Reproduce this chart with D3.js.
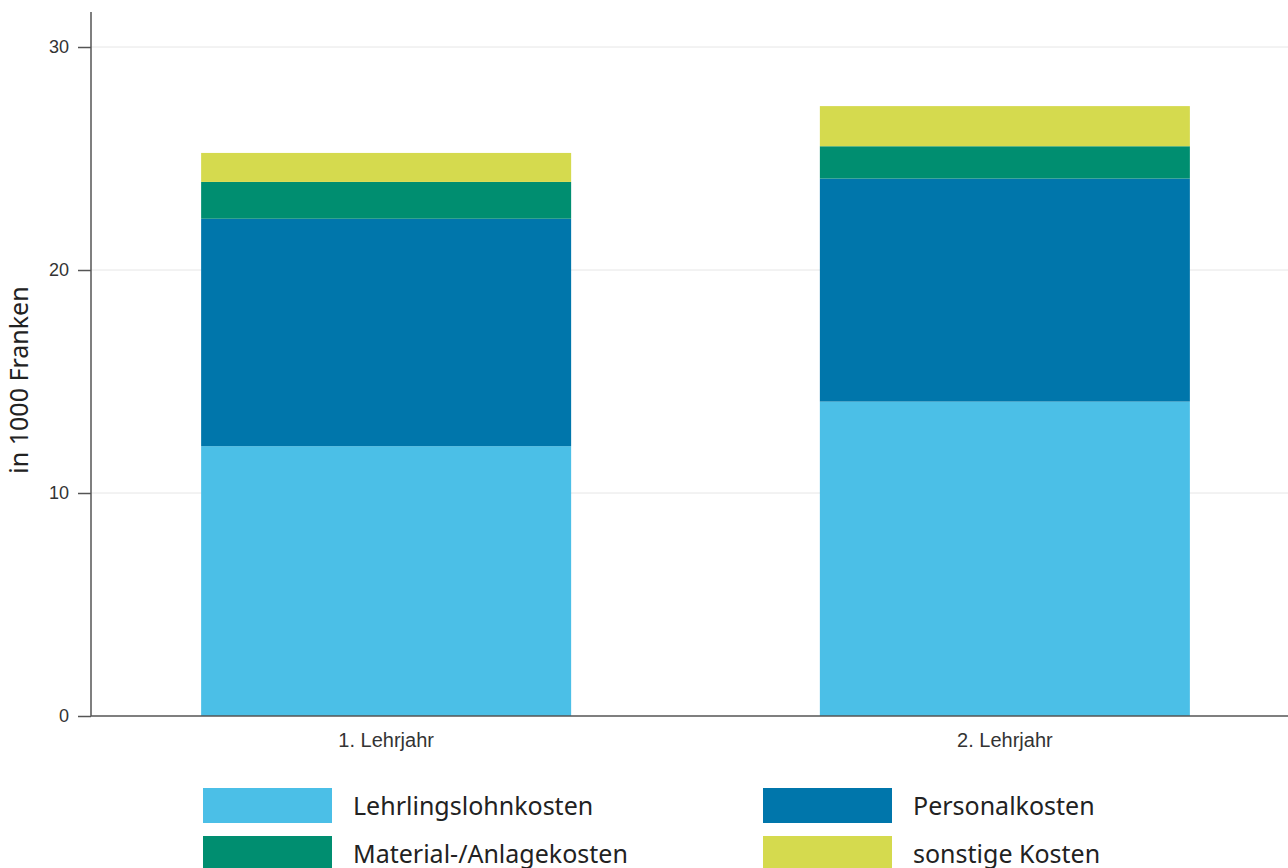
<!DOCTYPE html>
<html>
<head>
<meta charset="utf-8">
<script src="https://cdn.jsdelivr.net/npm/d3@7"></script>
<style>
  body { margin: 0; background: #fff; }
  svg { display: block; font-family: "Source Sans Pro", "Noto Sans", sans-serif; }
</style>
</head>
<body>
<div class="chart"></div>
<script>
// data
const years = ["1. Lehrjahr", "2. Lehrjahr"];
const series = ["Lehrlingslohnkosten", "Personalkosten", "Material-/Anlagekosten", "sonstige Kosten"];
const lehrlingslohn = [12.1, 14.1];
const personal = [10.2, 10.0];
const material = [1.65, 1.45];
const sonstige = [1.3, 1.8];
const yTicks = [0, 10, 20, 30];
const colors = ["#4bbfe7", "#0076ab", "#008e70", "#d5da4e"];

const rows = years.map((y, i) => ({
  year: y,
  "Lehrlingslohnkosten": lehrlingslohn[i],
  "Personalkosten": personal[i],
  "Material-/Anlagekosten": material[i],
  "sonstige Kosten": sonstige[i]
}));

const W = 1288, H = 868;
const margin = ({top: 12, left: 91, bottom: 152});
const svg = d3.select(".chart").append("svg")
    .attr("width", W)
    .attr("height", H);

const xScale = d3.scaleBand()
    .domain(years)
    .range([margin.left, 1300])
    .paddingInner(0.402)
    .paddingOuter(0.178);

const yScale = d3.scaleLinear()
    .domain([0, 31.57])
    .range([H - margin.bottom, margin.top]);

const color = d3.scaleOrdinal().domain(series).range(colors);

// gridlines
svg.append("g")
  .selectAll("line")
  .data(yTicks.filter(d => d > 0))
  .join("line")
    .attr("x1", margin.left)
    .attr("x2", W)
    .attr("y1", d => yScale(d))
    .attr("y2", d => yScale(d))
    .attr("stroke", "#e6e6e6")
    .attr("stroke-width", 1);

// bars
const stacked = d3.stack().keys(series)(rows);
svg.append("g")
  .selectAll("g")
  .data(stacked)
  .join("g")
    .attr("fill", d => color(d.key))
  .selectAll("rect")
  .data(d => d)
  .join("rect")
    .attr("x", d => xScale(d.data.year))
    .attr("width", xScale.bandwidth())
    .attr("y", d => yScale(d[1]))
    .attr("height", d => yScale(d[0]) - yScale(d[1]));

// axes
const yAxis = svg.append("g")
    .attr("transform", `translate(${margin.left},0)`)
    .call(d3.axisLeft(yScale).tickValues(yTicks).tickSize(13).tickPadding(9).tickSizeOuter(0));
yAxis.select(".domain").remove();
yAxis.append("line")
    .attr("x1", 0).attr("x2", 0)
    .attr("y1", margin.top).attr("y2", yScale(0))
    .attr("stroke", "#555").attr("stroke-width", 1.5);
yAxis.selectAll(".tick line").attr("stroke", "#555").attr("stroke-width", 1.5);
yAxis.selectAll(".tick text").attr("fill", "#333").attr("font-size", 18);

const xAxis = svg.append("g")
    .attr("transform", `translate(0,${yScale(0)})`)
    .call(d3.axisBottom(xScale).tickSize(0).tickPadding(17));
xAxis.select(".domain").remove();
xAxis.append("line")
    .attr("x1", margin.left).attr("x2", W)
    .attr("stroke", "#555").attr("stroke-width", 1.5);
xAxis.selectAll(".tick text").attr("fill", "#333").attr("font-size", 20);

// axis title
svg.append("text")
    .attr("transform", `translate(28,${(margin.top + yScale(0)) / 2 + 16}) rotate(-90)`)
    .attr("text-anchor", "middle")
    .attr("fill", "#222")
    .attr("font-size", 25)
    .text("in 1000 Franken");

// legend
const legend = svg.append("g")
  .selectAll("g")
  .data(series)
  .join("g")
    .attr("transform", (d, i) => `translate(${203 + (i % 2) * 560},${788 + Math.floor(i / 2) * 48})`);
legend.append("rect")
    .attr("width", 129)
    .attr("height", 35)
    .attr("fill", d => color(d));
legend.append("text")
    .attr("x", 150)
    .attr("y", 27)
    .attr("fill", "#222")
    .attr("font-size", 25)
    .text(d => d);
</script>
</body>
</html>
